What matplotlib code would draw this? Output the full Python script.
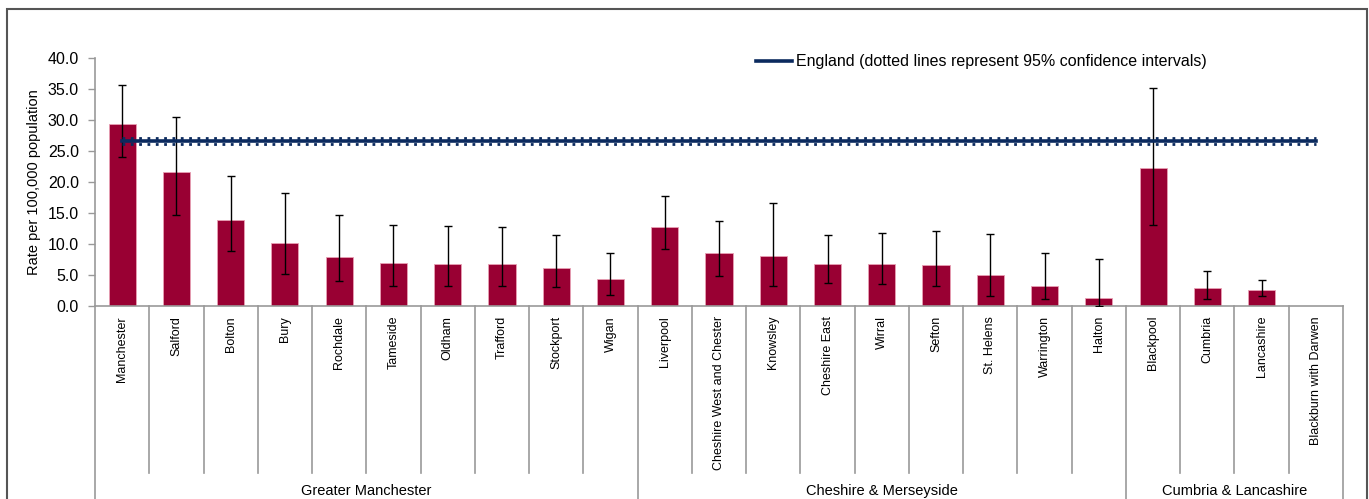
import numpy as np
import matplotlib as mpl
mpl.use('Agg')
import matplotlib.pyplot as plt
from matplotlib.patches import Rectangle

plt.rcParams['font.family'] = ['Liberation Sans', 'DejaVu Sans']

areas = ['Manchester', 'Salford', 'Bolton', 'Bury', 'Rochdale', 'Tameside',
         'Oldham', 'Trafford', 'Stockport', 'Wigan',
         'Liverpool', 'Cheshire West and Chester', 'Knowsley', 'Cheshire East',
         'Wirral', 'Sefton', 'St. Helens', 'Warrington', 'Halton',
         'Blackpool', 'Cumbria', 'Lancashire', 'Blackburn with Darwen']
groups = ['Greater Manchester', 'Cheshire & Merseyside', 'Cumbria & Lancashire']
group_sizes = [10, 9, 4]

rate = [29.4, 21.6, 13.9, 10.1, 7.9, 6.9, 6.7, 6.7, 6.1, 4.3,
        12.8, 8.5, 8.1, 6.7, 6.7, 6.6, 5.0, 3.2, 1.3,
        22.2, 2.9, 2.6, np.nan]
ci_low = [24.1, 14.7, 8.8, 5.1, 4.0, 3.2, 3.2, 3.2, 3.0, 1.8,
          9.2, 4.9, 3.3, 3.7, 3.6, 3.2, 1.6, 1.1, 0.0,
          13.1, 1.2, 1.6, np.nan]
ci_high = [35.6, 30.5, 20.9, 18.2, 14.7, 13.1, 12.9, 12.7, 11.4, 8.5,
           17.7, 13.7, 16.6, 11.4, 11.8, 12.1, 11.6, 8.5, 7.6,
           35.2, 5.7, 4.2, np.nan]

england = 26.6
england_low = 26.1
england_high = 27.1

rate = np.array(rate)
yerr = [rate - np.array(ci_low), np.array(ci_high) - rate]
x = np.arange(len(areas))

fig = plt.figure(figsize=(13.69, 4.99), dpi=100)
ax = fig.add_axes([95/1369, (499-306)/499, (1343-95)/1369, 248/499])

ax.bar(x, rate, width=0.5, color='#990033', edgecolor='#e8a0b4', linewidth=0.6, zorder=2)
ax.errorbar(x, rate, yerr=yerr, fmt='none', ecolor='black', elinewidth=1,
            capsize=3, capthick=1, zorder=3)

navy = '#0b2a5e'
ax.plot([x[0], x[-1]], [england, england], color=navy, lw=2.6, zorder=4,
        label='England (dotted lines represent 95% confidence intervals)')
ax.plot([x[0], x[-1]], [england_low, england_low], color=navy, lw=2,
        ls=(0, (1, 2)), zorder=4)
ax.plot([x[0], x[-1]], [england_high, england_high], color=navy, lw=2,
        ls=(0, (1, 2)), zorder=4)

ax.set_xlim(-0.5, len(areas) - 0.5)
ax.set_ylim(0, 40)
ax.set_yticks(np.arange(0, 40.1, 5))
ax.set_yticklabels([f'{v:.1f}' for v in np.arange(0, 40.1, 5)], fontsize=11.5)
ax.tick_params(axis='y', length=5, width=1, color='#999999', pad=6.5)
ax.set_ylabel('Rate per 100,000 population', fontsize=10.5, labelpad=5)

for s in ['top', 'right']:
    ax.spines[s].set_visible(False)
for s in ['left', 'bottom']:
    ax.spines[s].set_color('#999999')
    ax.spines[s].set_linewidth(1.2)

# category labels and separators
ax.set_xticks([])
trans = ax.get_xaxis_transform()
for i, name in enumerate(areas):
    ax.text(i, -0.04, name, rotation=90, ha='center', va='top', fontsize=9,
            transform=trans)

bounds = np.concatenate([[0], np.cumsum(group_sizes)]) - 0.5
for b in np.arange(-0.5, len(areas)):
    if b in bounds:
        ax.plot([b, b], [0, -0.85], color='#999999', lw=1.2, transform=trans, clip_on=False)
    else:
        ax.plot([b, b], [0, -0.673], color='#999999', lw=1.2, transform=trans, clip_on=False)

for g, lo, hi in zip(groups, bounds[:-1], bounds[1:]):
    ax.text((lo + hi) / 2, -0.745, g, ha='center', va='center', fontsize=10.5,
            transform=trans)

leg = ax.legend(loc='upper left', bbox_to_anchor=(655/1248, 1.04), frameon=False,
                fontsize=11.5, handlelength=2.2, handletextpad=0.3, borderaxespad=0)

# chart frame
fig.patches.append(Rectangle((7/1369, -0.1), (1367-7)/1369, (499-9)/499 + 0.1,
                             transform=fig.transFigure, fill=False,
                             edgecolor='#555555', lw=1.5))

fig.savefig('out.png', dpi=100)
